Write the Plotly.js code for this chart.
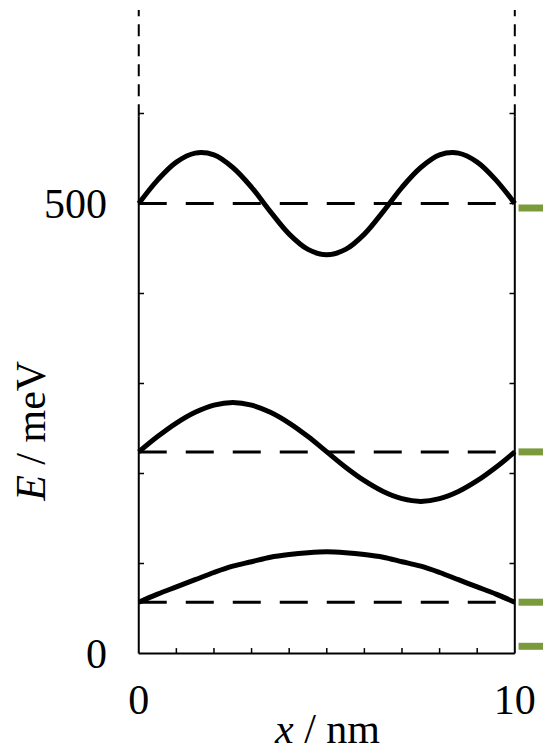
<!DOCTYPE html>
<html>
<head>
<meta charset="utf-8">
<script src="https://cdn.plot.ly/plotly-3.0.1.min.js"></script>
<style>html,body{margin:0;padding:0;background:#fff;}#chart{width:543px;height:755px;}</style>
</head>
<body>
<div id="chart"></div>
<script>
// x positions (nm) at which the wavefunction curves were read
const xPos = [0,0.5,1,1.5,2,2.5,3,3.5,4,4.5,5,5.5,6,6.5,7,7.5,8,8.5,9,9.5,10];
// curves (meV)
const psi1 = [57,66,74,82,90,97,102,107,110,112,113,112,110,107,102,97,90,82,74,66,57];
const psi2 = [224,241,256,268,276,279,276,268,256,241,224,207,192,180,172,169,172,180,192,207,224];
const psi3 = [500,526,546,556,554,540,518,491,466,449,443,449,466,491,518,540,554,556,546,526,500];
// energy levels (meV), dashed lines
const levels = [57, 224, 500];
// green marks at the right edge (meV)
const greenLevels = [8, 57, 224, 495];
// well edges and heights
const wellX = [0, 10];
const wellTop = 597;
const plotTop = 715;
const yTickVals = [0, 100, 200, 300, 400, 500, 600];
const yTickText = ['0', '', '', '', '', '500', ''];
const xTickVals = [0,1,2,3,4,5,6,7,8,9,10];
const xTickText = ['0','','','','','','','','','','10'];

const FONT = 'Liberation Serif, Times New Roman, serif';
const traces = [];
[psi1, psi2, psi3].forEach(function (ys) {
  traces.push({x: xPos, y: ys, mode: 'lines', line: {color: '#000', width: 5, shape: 'spline', smoothing: 1}, hoverinfo: 'skip'});
});
levels.forEach(function (e) {
  traces.push({x: [wellX[0], wellX[1]], y: [e, e], mode: 'lines', line: {color: '#000', width: 3, dash: '28px,19px'}, hoverinfo: 'skip'});
});
greenLevels.forEach(function (e) {
  traces.push({x: [10.1, 10.8], y: [e, e], mode: 'lines', line: {color: '#7a9a3c', width: 7}, hoverinfo: 'skip'});
});

const shapes = [];
// bottom axis
shapes.push({type: 'line', xref: 'x', yref: 'y', x0: wellX[0], x1: wellX[1], y0: 0, y1: 0, line: {color: '#000', width: 2}});
wellX.forEach(function (xv) {
  shapes.push({type: 'line', xref: 'x', yref: 'y', x0: xv, x1: xv, y0: 0, y1: wellTop, line: {color: '#000', width: 2}});
  shapes.push({type: 'line', xref: 'x', yref: 'y', x0: xv, x1: xv, y0: wellTop, y1: plotTop, line: {color: '#000', width: 2, dash: '12px,8px'}});
});
// ticks
yTickVals.slice(1).forEach(function (yv) {
  shapes.push({type: 'line', xref: 'x', yref: 'y', x0: 0, x1: 0.14, y0: yv, y1: yv, line: {color: '#000', width: 1.5}});
  shapes.push({type: 'line', xref: 'x', yref: 'y', x0: 10, x1: 9.86, y0: yv, y1: yv, line: {color: '#000', width: 1.5}});
});
xTickVals.slice(1, -1).forEach(function (xv) {
  shapes.push({type: 'line', xref: 'x', yref: 'y', x0: xv, x1: xv, y0: 0, y1: 6, line: {color: '#000', width: 1.5}});
});

const layout = {
  width: 543, height: 755,
  margin: {l: 135, r: 0, t: 10, b: 97},
  paper_bgcolor: '#fff', plot_bgcolor: '#fff',
  showlegend: false,
  font: {family: FONT, size: 42, color: '#000'},
  xaxis: {range: [-0.1, 10.75], showgrid: false, zeroline: false, showline: false, ticks: '',
          tickmode: 'array', tickvals: xTickVals, ticktext: xTickText, ticklabelstandoff: 13,
          tickfont: {family: FONT, size: 42, color: '#000'}, fixedrange: true},
  yaxis: {range: [-5, 715], showgrid: false, zeroline: false, showline: false, ticks: '',
          tickmode: 'array', tickvals: yTickVals, ticktext: yTickText, ticklabelstandoff: 27,
          tickfont: {family: FONT, size: 42, color: '#000'}, fixedrange: true},
  shapes: shapes,
  annotations: [
    {text: '<i>E</i> / meV', xref: 'paper', yref: 'paper', x: 0, y: 0.349, xanchor: 'center', yanchor: 'middle',
     xshift: -104, textangle: -90, showarrow: false, font: {family: FONT, size: 42, color: '#000'}},
    {text: '<i>x</i> / nm', xref: 'paper', yref: 'paper', x: 0.4706, y: 0, xanchor: 'center', yanchor: 'middle',
     yshift: -71, borderpad: 0, showarrow: false, font: {family: FONT, size: 42, color: '#000'}}
  ]
};
Plotly.newPlot('chart', traces, layout, {displayModeBar: false, staticPlot: true});
</script>
</body>
</html>
